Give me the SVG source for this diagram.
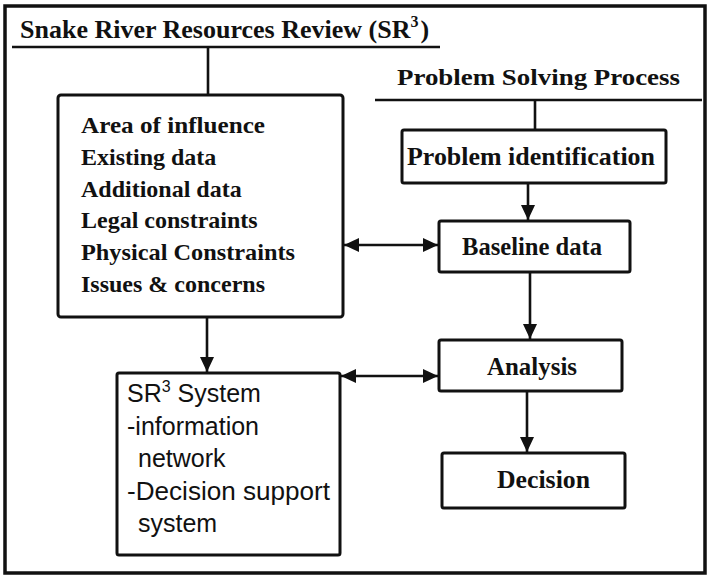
<svg xmlns="http://www.w3.org/2000/svg" width="710" height="577" viewBox="0 0 710 577">
<style>
.box{fill:#fff;stroke:#111;stroke-width:3}
.ln{fill:none;stroke:#111;stroke-width:2.6}
.serif{font-family:"Liberation Serif","Times New Roman",serif;font-weight:bold;fill:#111}
.sans{font-family:"Liberation Sans",Arial,sans-serif;fill:#111;font-size:25px}
</style>
<defs>
<marker id="ah" markerUnits="userSpaceOnUse" markerWidth="16" markerHeight="14" refX="15" refY="7" orient="auto-start-reverse">
<path d="M0,0 L15,7 L0,14 Z" fill="#111"/>
</marker>
</defs>
<rect x="0" y="0" width="710" height="577" fill="#fff"/>
<rect x="5" y="6" width="700" height="567" fill="none" stroke="#111" stroke-width="3.5"/>

<g id="title">
<text class="serif" x="20" y="38" font-size="26">Snake River Resources Review (SR<tspan font-size="16" dy="-11">3</tspan><tspan dx="2" dy="11">)</tspan></text>
<line class="ln" x1="12" y1="47" x2="440" y2="47"/>
</g>

<g id="psp-title">
<text class="serif" x="397" y="85" font-size="23" textLength="283" lengthAdjust="spacingAndGlyphs">Problem Solving Process</text>
<line class="ln" x1="375" y1="100" x2="702" y2="100"/>
</g>

<g id="sr3-review">
<rect class="box" x="58" y="95" width="285" height="222" rx="3"/>
<g class="serif" font-size="24">
<text x="81" y="133" textLength="184" lengthAdjust="spacingAndGlyphs">Area of influence</text>
<text x="81" y="165">Existing data</text>
<text x="81" y="197">Additional data</text>
<text x="81" y="228">Legal constraints</text>
<text x="81" y="260" textLength="214" lengthAdjust="spacingAndGlyphs">Physical Constraints</text>
<text x="81" y="292">Issues &amp; concerns</text>
</g>
</g>

<g id="sr3-system">
<rect class="box" x="117" y="373" width="223" height="182" rx="2"/>
<text class="sans" x="127" y="402">SR<tspan font-size="16" dy="-10">3</tspan><tspan dy="10"> System</tspan></text>
<text class="sans" x="127" y="435">-information</text>
<text class="sans" x="138" y="467">network</text>
<text class="sans" x="127" y="500" textLength="203" lengthAdjust="spacingAndGlyphs">-Decision support</text>
<text class="sans" x="138" y="532">system</text>
</g>

<g id="problem-identification">
<rect class="box" x="402" y="130" width="264" height="53" rx="2"/>
<text class="serif" x="407" y="165" font-size="25" textLength="248" lengthAdjust="spacingAndGlyphs">Problem identification</text>
</g>

<g id="baseline-data">
<rect class="box" x="439" y="221" width="191" height="51" rx="2"/>
<text class="serif" x="462" y="255" font-size="25" textLength="140" lengthAdjust="spacingAndGlyphs">Baseline data</text>
</g>

<g id="analysis">
<rect class="box" x="439" y="340" width="183" height="51" rx="2"/>
<text class="serif" x="487" y="375" font-size="25" textLength="90" lengthAdjust="spacingAndGlyphs">Analysis</text>
</g>

<g id="decision">
<rect class="box" x="442" y="453" width="183" height="55" rx="2"/>
<text class="serif" x="497" y="488" font-size="25" textLength="93" lengthAdjust="spacingAndGlyphs">Decision</text>
</g>

<g id="connectors">
<line class="ln" x1="208" y1="47" x2="208" y2="95"/>
<line class="ln" x1="535" y1="100" x2="535" y2="130"/>
<line class="ln" x1="207" y1="317" x2="207" y2="372" marker-end="url(#ah)"/>
<line class="ln" x1="528" y1="183" x2="528" y2="220" marker-end="url(#ah)"/>
<line class="ln" x1="530" y1="272" x2="530" y2="339" marker-end="url(#ah)"/>
<line class="ln" x1="527" y1="391" x2="527" y2="452" marker-end="url(#ah)"/>
<line class="ln" x1="344" y1="245" x2="438" y2="245" marker-start="url(#ah)" marker-end="url(#ah)"/>
<line class="ln" x1="341" y1="376" x2="438" y2="376" marker-start="url(#ah)" marker-end="url(#ah)"/>
</g>
</svg>
